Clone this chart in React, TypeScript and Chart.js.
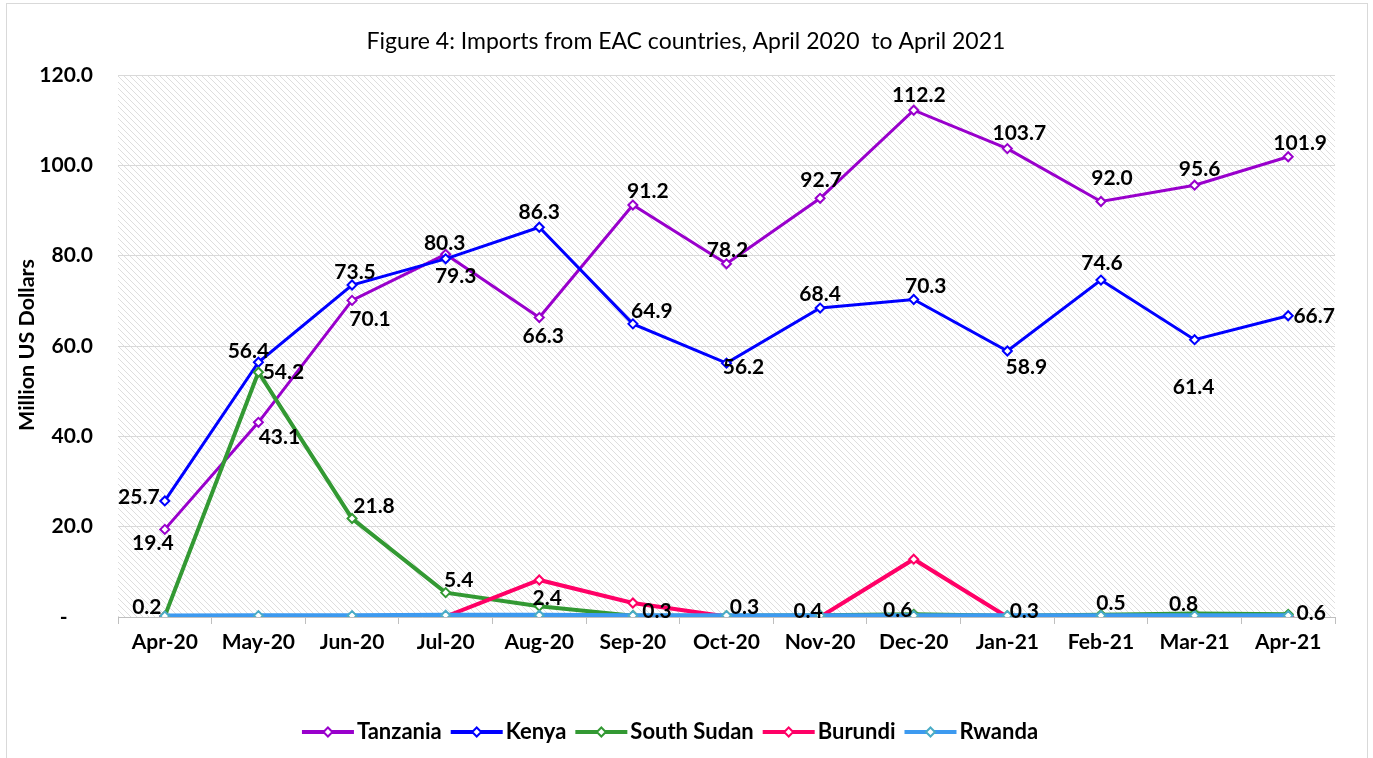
import { useEffect, useRef } from 'react';
import { Chart, registerables } from 'chart.js';

Chart.register(...registerables);

const months = ['Apr-20', 'May-20', 'Jun-20', 'Jul-20', 'Aug-20', 'Sep-20', 'Oct-20', 'Nov-20', 'Dec-20', 'Jan-21', 'Feb-21', 'Mar-21', 'Apr-21'];
const tanzania = [19.4, 43.1, 70.1, 80.3, 66.3, 91.2, 78.2, 92.7, 112.2, 103.7, 92.0, 95.6, 101.9];
const kenya = [25.7, 56.4, 73.5, 79.3, 86.3, 64.9, 56.2, 68.4, 70.3, 58.9, 74.6, 61.4, 66.7];
const southSudan = [0.2, 54.2, 21.8, 5.4, 2.4, 0.3, 0.3, 0.4, 0.6, 0.3, 0.5, 0.8, 0.6];
const burundi = [0.1, 0.1, 0.1, 0.1, 8.2, 3.1, 0.1, 0.0, 12.8, 0.0, 0.1, 0.1, 0.1];
const rwanda = [0.2, 0.3, 0.3, 0.4, 0.4, 0.3, 0.3, 0.3, 0.3, 0.3, 0.3, 0.3, 0.3];
const yTicks = [0, 20, 40, 60, 80, 100, 120];

const titleText = 'Figure 4: Imports from EAC countries, April 2020  to April 2021';
const yTitle = 'Million US Dollars';

// label placement offsets (label centre relative to the point), styling only
const tanzaniaLabelPos = [[-12, 14], [21, 15], [18, 19], [-1, -11], [4, 19], [15, -14], [1, -14], [1, -18], [5, -15], [12, -15], [11, -23], [5, -16], [12, -14]];
const kenyaLabelPos = [[-26, -4], [-10, -11], [3, -13], [10, 17], [0, -15], [19, -13], [17, 4], [0, -14], [12, -13], [19, 16], [1, -17], [-1, 48], [26, 0]];
const southSudanLabelPos = [[-18, -9], [25, 0], [22, -12], [13, -12], [8, -8], [24, -4], [18, -8], [-12, -4], [-16, -4], [17, -4], [10, -12], [-11, -9], [23, -1]];

const FONT = 'Lato, "Open Sans", sans-serif';

export default function App() {
  const ref = useRef<HTMLCanvasElement | null>(null);

  useEffect(() => {
    const canvas = ref.current;
    if (!canvas) return;

    const series = [
      { label: 'Tanzania', data: tanzania, color: '#9900CC', marker: '#9900CC', width: 3, order: 5, labels: tanzaniaLabelPos },
      { label: 'Kenya', data: kenya, color: '#0000FF', marker: '#0000FF', width: 3, order: 4, labels: kenyaLabelPos },
      { label: 'South Sudan', data: southSudan, color: '#339933', marker: '#339933', width: 4, order: 3, labels: southSudanLabelPos },
      { label: 'Burundi', data: burundi, color: '#FF0066', marker: '#FF0066', width: 4, order: 2, labels: null },
      { label: 'Rwanda', data: rwanda, color: '#3D9AF0', marker: '#4BACC6', width: 5, order: 1, labels: null },
    ];

    const hatch = document.createElement('canvas');
    hatch.width = 6;
    hatch.height = 6;
    const hc = hatch.getContext('2d')!;
    hc.strokeStyle = '#dedede';
    hc.lineWidth = 1;
    hc.beginPath();
    hc.moveTo(0, 0); hc.lineTo(6, 6);
    hc.moveTo(-1, 5); hc.lineTo(1, 7);
    hc.moveTo(5, -1); hc.lineTo(7, 1);
    hc.stroke();

    const decor = {
      id: 'decor',
      beforeDraw(chart: any) {
        const { ctx, chartArea: a } = chart;
        ctx.save();
        ctx.fillStyle = '#ffffff';
        ctx.fillRect(0, 0, chart.width, chart.height);
        const pat = ctx.createPattern(hatch, 'repeat');
        ctx.fillStyle = pat;
        ctx.fillRect(a.left, a.top, a.right - a.left, a.bottom - a.top);
        ctx.strokeStyle = '#d9d9d9';
        ctx.lineWidth = 1;
        ctx.strokeRect(6.5, 3.5, 1361, 800);
        ctx.fillStyle = '#000';
        ctx.font = `23px ${FONT}`;
        ctx.textAlign = 'center';
        ctx.textBaseline = 'middle';
        ctx.fillText(titleText, 686, 42);
        ctx.translate(27, 345);
        ctx.rotate(-Math.PI / 2);
        ctx.font = `bold 21.5px ${FONT}`;
        ctx.fillText(yTitle, 0, 0);
        ctx.restore();
      },
      afterDatasetsDraw(chart: any) {
        const { ctx } = chart;
        ctx.save();
        ctx.font = `bold 21px ${FONT}`;
        ctx.fillStyle = '#000';
        ctx.textAlign = 'center';
        ctx.textBaseline = 'middle';
        series.forEach((s, di) => {
          if (!s.labels) return;
          const meta = chart.getDatasetMeta(di);
          meta.data.forEach((pt: any, i: number) => {
            const [dx, dy] = s.labels![i];
            ctx.fillText(s.data[i].toFixed(1), pt.x + dx, pt.y + dy);
          });
        });
        ctx.restore();
      },
      afterDraw(chart: any) {
        const { ctx } = chart;
        ctx.save();
        ctx.font = `bold 22px ${FONT}`;
        ctx.textBaseline = 'middle';
        ctx.textAlign = 'left';
        const markerW = 52;
        const gapText = 3;
        const gapItem = 9;
        const widths = series.map((s) => ctx.measureText(s.label).width);
        const total = widths.reduce((acc, w) => acc + markerW + gapText + w, 0) + gapItem * (series.length - 1);
        let x = 670 - total / 2;
        const y = 732;
        series.forEach((s, i) => {
          ctx.strokeStyle = s.color;
          ctx.lineWidth = 4;
          ctx.beginPath();
          ctx.moveTo(x, y);
          ctx.lineTo(x + markerW, y);
          ctx.stroke();
          const cx = x + markerW / 2;
          const r = 4.5;
          ctx.beginPath();
          ctx.moveTo(cx, y - r);
          ctx.lineTo(cx + r, y);
          ctx.lineTo(cx, y + r);
          ctx.lineTo(cx - r, y);
          ctx.closePath();
          ctx.fillStyle = '#fff';
          ctx.fill();
          ctx.lineWidth = 2;
          ctx.strokeStyle = s.marker;
          ctx.stroke();
          ctx.fillStyle = '#000';
          ctx.fillText(s.label, x + markerW + gapText, y);
          x += markerW + gapText + widths[i] + gapItem;
        });
        ctx.restore();
      },
    };

    const chart = new Chart(canvas, {
      type: 'line',
      data: {
        labels: months,
        datasets: series.map((s) => ({
          label: s.label,
          data: s.data,
          borderColor: s.color,
          backgroundColor: s.color,
          borderWidth: s.width,
          pointStyle: 'rectRot',
          pointRadius: 4.5,
          pointBorderWidth: 2,
          pointBackgroundColor: '#ffffff',
          pointBorderColor: s.marker,
          tension: 0,
          fill: false,
          order: s.order,
        })),
      },
      options: {
        animation: false,
        responsive: false,
        devicePixelRatio: 1,
        layout: { padding: { left: 0, right: 38, top: 75, bottom: 81 } },
        plugins: {
          legend: { display: false },
          title: { display: false },
          tooltip: { enabled: false },
        },
        scales: {
          x: {
            type: 'category',
            offset: true,
            grid: { display: true, drawOnChartArea: false, drawTicks: true, tickLength: 7, color: '#bfbfbf', offset: true },
            border: { display: true, color: '#bfbfbf', width: 1 },
            ticks: { font: { family: FONT, weight: 'bold', size: 21 }, color: '#000', padding: 6, maxRotation: 0, autoSkip: false },
            afterFit: (s: any) => { s.height = 60; },
          },
          y: {
            min: yTicks[0],
            max: yTicks[yTicks.length - 1],
            afterBuildTicks: (s: any) => { s.ticks = yTicks.map((v) => ({ value: v })); },
            ticks: {
              padding: 25,
              font: { family: FONT, weight: 'bold', size: 21 },
              color: '#000',
              callback: (v: any) => (Number(v) === 0 ? '-     ' : Number(v).toFixed(1)),
            },
            grid: { color: '#d9d9d9', drawTicks: false, lineWidth: 1 },
            border: { display: false },
            afterFit: (s: any) => { s.width = 118; },
          },
        },
      },
      plugins: [decor],
    } as any);

    return () => chart.destroy();
  }, []);

  return (
    <div style={{ position: 'absolute', left: 0, top: 0, width: 1373, height: 758 }}>
      <canvas ref={ref} width={1373} height={758} style={{ display: 'block' }} />
    </div>
  );
}
